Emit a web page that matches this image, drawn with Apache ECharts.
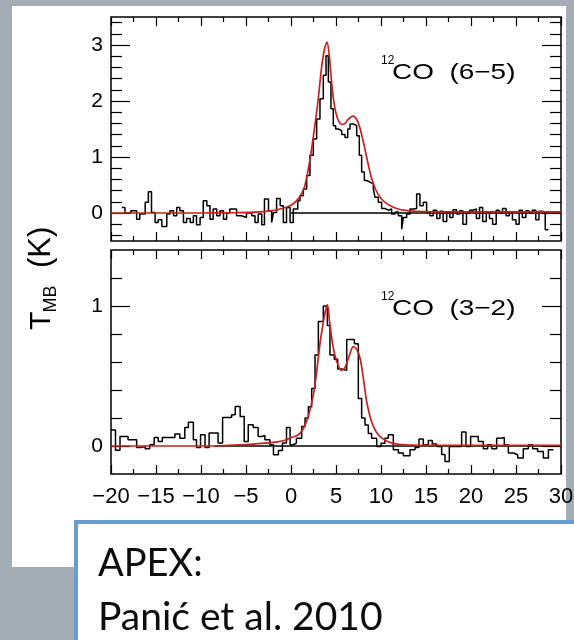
<!DOCTYPE html>
<html>
<head>
<meta charset="utf-8">
<script src="https://cdn.jsdelivr.net/npm/echarts@6/dist/echarts.min.js"></script>
<style>
  html, body { margin: 0; padding: 0; background: #a4acb5; }
  #chart { width: 574px; height: 640px; }
</style>
</head>
<body>
<div id="chart"></div>
<script>
// Velocity axis (km/s)
const velTicks = [-20, -15, -10, -5, 0, 5, 10, 15, 20, 25, 30];
const velTickLabels = ['−20', '−15', '−10', '−5', '0', '5', '10', '15', '20', '25', '30'];

// Brightness temperature ticks (K)
const t65Major = [0, 1, 2, 3];
const t65MajorLabels = ['0', '1', '2', '3'];
const t65Minor = [-0.4, -0.2, 0.2, 0.4, 0.6, 0.8, 1.2, 1.4, 1.6, 1.8, 2.2, 2.4, 2.6, 2.8, 3.2, 3.4];
const t32Major = [0, 1];
const t32MajorLabels = ['0', '1'];
const t32Minor = [0.2, 0.4, 0.6, 0.8, 1.2];

// 12CO (6-5) observed spectrum: [channel left edge, T_MB]
const spec65 = [
  [-18.8,0.10],[-18.45,0.0],[-17.8,0.04],[-17.15,-0.11],[-16.8,-0.02],[-16.2,0.19],[-15.85,0.38],[-15.5,0.01],
  [-15.1,-0.17],[-14.75,-0.12],[-14.35,-0.24],[-13.8,-0.02],[-13.45,0.04],[-13.05,-0.05],[-12.7,0.10],[-12.35,0.04],
  [-11.95,-0.17],[-11.6,-0.10],[-11.2,-0.17],[-10.85,-0.05],[-10.5,-0.21],[-10.1,-0.08],[-9.75,0.22],[-9.35,0.13],
  [-9.0,-0.11],[-8.65,0.07],[-8.25,-0.05],[-7.9,0.04],[-7.5,-0.11],[-7.15,0.0],[-6.8,0.07],[-6.05,-0.05],
  [-5.5,-0.08],[-4.95,0.0],[-4.35,-0.05],[-4.0,-0.17],[-3.65,-0.02],[-3.25,-0.21],[-2.95,0.25],[-2.5,0.04],
  [-2.15,-0.17],[-1.95,0.01],[-1.6,0.26],[-1.2,0.13],[-0.85,-0.17],[-0.5,0.10],[-0.1,-0.17],[0.25,0.07],
  [0.75,0.22],[1.0,0.31],[1.37,0.43],[1.74,0.67],[2.11,1.03],[2.48,1.32],[2.85,1.68],[3.22,2.04],
  [3.59,2.46],[3.89,2.81],[4.15,2.34],[4.44,1.86],[4.70,1.56],[4.96,1.50],[5.26,1.47],[5.63,1.40],
  [6.0,1.35],[6.3,1.50],[6.56,1.59],[6.93,1.56],[7.3,1.38],[7.59,1.03],[7.85,0.73],[8.15,0.58],
  [8.41,0.55],[8.78,0.52],[9.15,0.43],[9.33,0.28],[9.7,0.19],[10.07,0.08],[10.44,0.05],[10.81,0.07],
  [11.18,-0.02],[11.56,0.02],[11.93,-0.05],[12.3,-0.29],[12.48,-0.08],[12.85,-0.02],[13.22,0.07],[13.59,0.08],
  [13.96,0.34],[14.33,0.13],[14.7,0.19],[15.07,0.01],[15.44,-0.05],[15.8,0.05],[16.2,-0.10],[16.55,0.03],
  [16.9,-0.15],[17.3,0.02],[17.65,-0.08],[18.0,0.06],[18.4,-0.02],[18.75,0.04],[19.1,-0.20],[19.5,0.0],
  [19.85,0.05],[20.2,0.07],[20.6,-0.10],[20.95,0.10],[21.3,-0.15],[21.7,0.02],[22.05,-0.10],[22.4,-0.20],
  [22.8,0.05],[23.15,0.0],[23.5,0.08],[23.9,-0.05],[24.25,0.02],[24.6,-0.12],[25.0,-0.20],[25.35,0.05],
  [25.7,-0.08],[26.1,0.04],[26.45,0.0],[26.8,0.05],[27.2,-0.12],[27.55,0.03],[27.9,0.02],[28.25,-0.30],
  [28.6,-0.30]
];

// 12CO (6-5) disk model
const model65 = [
  [-20,0],[-10,0],[-6,0.005],[-4,0.015],[-3,0.025],[-2,0.045],[-1,0.08],[0,0.14],[0.5,0.2],[1,0.3],
  [1.5,0.47],[2,0.85],[2.5,1.38],[3,2.0],[3.4,2.6],[3.75,2.95],[4.0,3.05],[4.25,2.82],[4.5,2.35],[4.75,2.0],
  [5.0,1.78],[5.3,1.64],[5.7,1.58],[6.0,1.6],[6.4,1.68],[6.9,1.73],[7.3,1.67],[7.6,1.55],[8.0,1.3],[8.4,1.0],
  [8.9,0.65],[9.4,0.42],[10,0.26],[10.8,0.15],[11.6,0.09],[12.5,0.05],[14,0.03],[18,0.02],[30,0.02]
];

// 12CO (3-2) observed spectrum: [channel left edge, T_MB]
const spec32 = [
  [-20,0.114],[-19.5,-0.031],[-19.0,0.068],[-18.1,0.044],[-17.15,-0.01],[-16.6,-0.003],[-16.2,-0.02],[-15.7,0.009],
  [-15.2,0.061],[-14.75,0.033],[-14.3,0.061],[-13.8,0.061],[-12.9,0.085],[-12.35,0.056],[-11.8,0.133],[-11.4,0.170],
  [-10.85,0.044],[-10.5,-0.01],[-10.05,0.080],[-9.55,-0.01],[-9.1,0.092],[-8.1,0.021],[-7.6,0.204],[-6.6,0.223],
  [-6.2,0.282],[-5.65,0.211],[-5.2,0.033],[-4.75,0.152],[-4.2,0.133],[-3.65,0.068],[-3.25,0.075],[-2.9,0.044],
  [-2.35,0.009],[-1.95,-0.062],[-1.4,-0.033],[-0.95,0.021],[-0.5,0.133],[-0.1,0.009],[0.25,0.021],[0.6,0.056],
  [1.19,0.14],[1.56,0.2],[1.93,0.28],[2.3,0.41],[2.67,0.65],[3.04,0.89],[3.59,1.0],[4.04,0.86],
  [4.33,0.65],[4.81,0.62],[5.19,0.55],[5.63,0.54],[6.19,0.76],[7.04,0.73],[7.48,0.34],[7.85,0.2],
  [8.22,0.15],[8.59,0.09],[8.96,0.056],[9.52,-0.003],[10.0,0.02],[10.44,0.056],[10.81,0.08],[11.37,-0.026],
  [11.93,-0.05],[12.48,-0.07],[13.22,-0.026],[13.78,-0.01],[14.22,0.05],[14.7,0.009],[15.26,0.04],[15.7,0.014],
  [16.19,-0.003],[16.74,-0.06],[17.11,-0.11],[17.59,-0.003],[18.96,0.1],[19.44,-0.003],[19.96,0.068],[20.81,0.033],
  [21.37,-0.02],[21.85,0.009],[22.3,-0.02],[22.85,0.056],[23.3,0.061],[23.7,0.009],[24.15,-0.05],[24.7,-0.062],
  [25.19,-0.085],[25.81,-0.02],[26.37,0.009],[26.85,-0.02],[27.4,-0.04],[28.04,-0.085],[28.6,-0.026],[29.15,-0.026]
];

// 12CO (3-2) disk model
const model32 = [
  [-20,0],[-9,0.0],[-5,0.01],[-3,0.02],[-1.5,0.03],[-0.5,0.045],[0,0.06],[0.5,0.07],[1,0.09],[1.5,0.14],
  [2,0.23],[2.5,0.37],[2.85,0.53],[3.2,0.72],[3.6,0.89],[3.85,0.97],[4.05,1.01],[4.3,0.88],[4.7,0.70],[5.1,0.60],
  [5.6,0.54],[6.0,0.56],[6.5,0.65],[6.9,0.71],[7.3,0.69],[7.7,0.62],[8.05,0.48],[8.4,0.32],[8.95,0.175],[9.7,0.08],
  [10.8,0.03],[12,0.012],[15,0.005],[30,0.005]
];

// Zero-level baselines: [start, end] velocity
const base65 = [[0, 0], [30, 0]];
const base32 = [[-8.5, 0], [30, 0]];

const INK = '#000';
const RED = '#c8201e';
const tickFont = '"Liberation Sans", Arial, sans-serif';

const grids = [
  { left: 111, top: 17, width: 450, height: 224 },
  { left: 111, top: 250, width: 450, height: 224 }
].map(g => Object.assign({
  show: true, borderColor: INK, borderWidth: 1.5, backgroundColor: 'transparent',
  containLabel: false, outerBoundsMode: 'none'
}, g));

function velAxis(gridIndex, position, withLabels) {
  return {
    type: 'value', gridIndex, position, min: -20, max: 30, interval: 5,
    axisLine: { show: false, onZero: false },
    splitLine: { show: false },
    axisTick: { show: true, inside: true, length: 9, lineStyle: { color: INK, width: 1.2 } },
    minorTick: { show: true, splitNumber: 2, length: 5, lineStyle: { color: INK, width: 1.2 } },
    axisLabel: {
      show: withLabels, margin: 12, color: INK, fontSize: 22, fontFamily: tickFont,
      formatter: v => velTickLabels[velTicks.indexOf(v)] ?? ''
    }
  };
}

function tAxis(gridIndex, position, min, max, ticks, labels, len) {
  return {
    type: 'value', gridIndex, position, min, max,
    axisLine: { show: false, onZero: false },
    splitLine: { show: false },
    axisTick: { show: true, inside: true, length: len, customValues: ticks, lineStyle: { color: INK, width: 1.2 } },
    axisLabel: labels ? {
      show: true, margin: 8, color: INK, fontSize: 21, fontFamily: tickFont,
      customValues: ticks, formatter: v => labels[ticks.indexOf(v)] ?? ''
    } : { show: false }
  };
}

const xAxes = [
  velAxis(0, 'bottom', false), velAxis(0, 'top', false),
  velAxis(1, 'bottom', true), velAxis(1, 'top', false)
];
const yAxes = [
  tAxis(0, 'left', -0.5, 3.5, t65Major, t65MajorLabels, 19),
  tAxis(0, 'left', -0.5, 3.5, t65Minor, null, 11),
  tAxis(0, 'right', -0.5, 3.5, t65Major, null, 19),
  tAxis(0, 'right', -0.5, 3.5, t65Minor, null, 11),
  tAxis(1, 'left', -0.2, 1.4, t32Major, t32MajorLabels, 19),
  tAxis(1, 'left', -0.2, 1.4, t32Minor, null, 11),
  tAxis(1, 'right', -0.2, 1.4, t32Major, null, 19),
  tAxis(1, 'right', -0.2, 1.4, t32Minor, null, 11)
];

function lineSeries(data, xi, yi, color, width, step, z) {
  return {
    type: 'line', data, xAxisIndex: xi, yAxisIndex: yi, step: step || false,
    showSymbol: false, symbol: 'none', silent: true, z, clip: true,
    lineStyle: { color, width }
  };
}

const series = [
  lineSeries(base65, 0, 0, INK, 1.5, false, 2),
  lineSeries(spec65, 0, 0, INK, 1.5, 'end', 3),
  Object.assign(lineSeries(model65, 0, 0, RED, 1.7, false, 4), { smooth: 0.25 }),
  lineSeries(base32, 2, 4, INK, 1.5, false, 2),
  lineSeries(spec32, 2, 4, INK, 1.5, 'end', 3),
  Object.assign(lineSeries(model32, 2, 4, RED, 1.7, false, 4), { smooth: 0.25 })
];

const titleFont = '22px "Liberation Sans", Arial, sans-serif';
const supFont = '12px "Liberation Sans", Arial, sans-serif';

function lineTitle(y, text) {
  return [
    { type: 'text', x: 381, y: y - 12, style: { text: '12', font: supFont, fill: INK, align: 'left', verticalAlign: 'middle' } },
    { type: 'text', x: 392, y: y, scaleX: 1.27, style: { text: text, font: titleFont, fill: INK, align: 'left', verticalAlign: 'middle' } }
  ];
}

const graphic = [
  // white slide panel behind the figure
  { type: 'rect', z: -10, shape: { x: 12, y: 6, width: 554, height: 561 }, style: { fill: '#ffffff' } },
  ...lineTitle(72.5, 'CO  (6−5)'),
  ...lineTitle(309, 'CO  (3−2)'),
  // y-axis title T_MB (K), rotated
  {
    type: 'group', x: 52, y: 330, rotation: Math.PI / 2,
    children: [
      { type: 'text', x: 0, y: -10.7, style: { text: 'T', font: '30px "Liberation Sans", Arial, sans-serif', fill: INK, align: 'left', verticalAlign: 'middle' } },
      { type: 'text', x: 17.5, y: -0.5, style: { text: 'MB', font: '18px "Liberation Sans", Arial, sans-serif', fill: INK, align: 'left', verticalAlign: 'middle' } },
      { type: 'text', x: 62, y: -10.7, style: { text: '(K)', font: '31px "Liberation Sans", Arial, sans-serif', fill: INK, align: 'left', verticalAlign: 'middle' } }
    ]
  },
  // citation box
  { type: 'rect', z: 20, shape: { x: 76, y: 522, width: 520, height: 140 }, style: { fill: '#ffffff', stroke: '#6a9bd1', lineWidth: 4 } },
  { type: 'text', z: 21, x: 98, y: 563.5, style: { text: 'APEX:', font: '38px Lato, "Open Sans", sans-serif', fill: '#0d0d0d', align: 'left', verticalAlign: 'middle' } },
  { type: 'text', z: 21, x: 98, y: 617.5, style: { text: 'Panić et al. 2010', font: '39px Lato, "Open Sans", sans-serif', fill: '#0d0d0d', align: 'left', verticalAlign: 'middle' } }
];

const chart = echarts.init(document.getElementById('chart'), null, { renderer: 'canvas' });
chart.setOption({
  backgroundColor: '#a4acb5',
  animation: false,
  grid: grids,
  xAxis: xAxes,
  yAxis: yAxes,
  series,
  graphic
});
</script>
</body>
</html>
